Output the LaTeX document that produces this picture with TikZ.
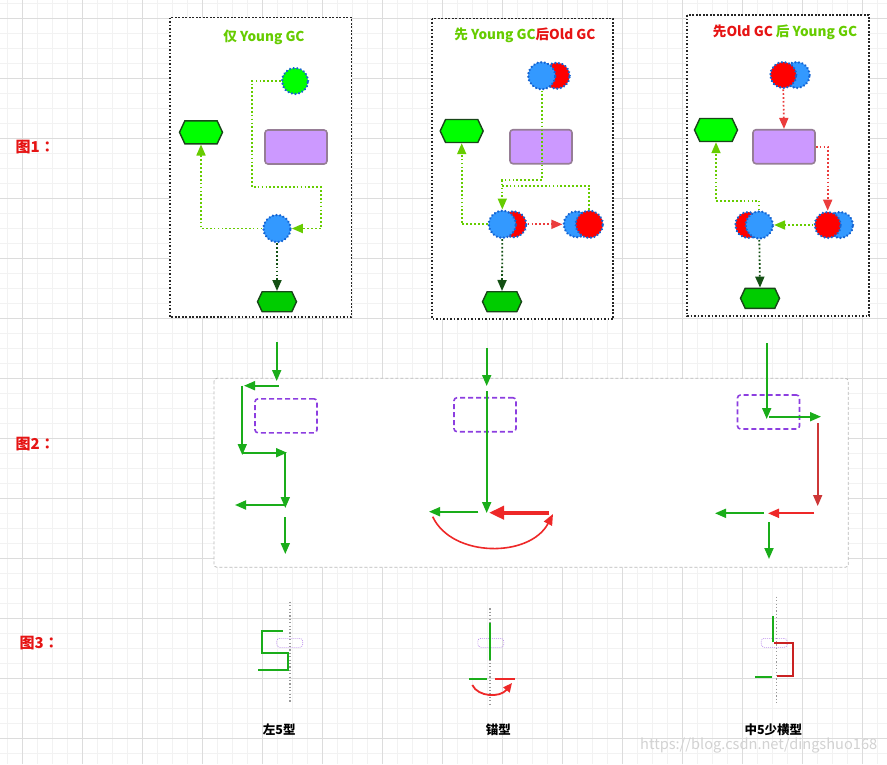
\documentclass[tikz,border=0pt]{standalone}
\usepackage{fontspec}
\setmainfont{Noto Sans CJK SC}
\newfontfamily\tcfont{Noto Sans CJK TC}
\usetikzlibrary{arrows.meta,shapes.symbols,shapes.geometric}
\definecolor{ygreen}{RGB}{102,204,0}
\definecolor{redT}{RGB}{230,20,20}
\definecolor{dgreen}{RGB}{20,80,20}
\definecolor{hexborder}{RGB}{25,70,25}
\definecolor{hexA}{RGB}{0,255,0}
\definecolor{hexB}{RGB}{0,204,0}
\definecolor{blueF}{RGB}{51,153,255}
\definecolor{redF}{RGB}{255,0,0}
\definecolor{dotblue}{RGB}{20,100,210}
\definecolor{purF}{RGB}{204,153,255}
\definecolor{purB}{RGB}{150,125,150}
\definecolor{purD}{RGB}{140,62,224}
\definecolor{pgreen}{RGB}{26,173,26}
\definecolor{pred}{RGB}{238,40,40}
\definecolor{predb}{RGB}{205,55,55}
\definecolor{rdot}{RGB}{235,60,60}
\definecolor{gridmin}{RGB}{242,242,242}
\definecolor{gridmaj}{RGB}{220,220,220}
\tikzset{
  gcbox/.style={draw=black!85, line width=1.7pt, dash pattern=on 1.7pt off 1.8pt, fill=white},
  hexbox/.style={signal, signal to=east and west, signal pointer angle=130, draw=hexborder, line width=1.4pt, fill=#1, inner sep=0},
  circ/.style={circle, fill=#1, draw=dotblue, line width=2.6pt, dash pattern=on 0.01pt off 3.6pt, line cap=round, minimum size=26pt, inner sep=0},
  prect/.style={draw=purB, line width=1.6pt, fill=purF, rounded corners=3pt, minimum width=62pt, minimum height=34pt, inner sep=0},
  yg/.style={draw=ygreen, line width=1.7pt, dash pattern=on 1.7pt off 2.2pt},
  yga/.style={yg, -{Triangle[width=9pt,length=11pt]}},
  dga/.style={draw=dgreen, line width=1.8pt, dash pattern=on 1.7pt off 2.2pt, -{Triangle[width=9pt,length=11pt]}},
  rda/.style={draw=rdot, line width=1.7pt, dash pattern=on 1.7pt off 2.2pt, -{Triangle[width=9pt,length=11pt]}},
  title/.style={font=\fontsize{13.6}{15}\selectfont\bfseries, inner sep=0},
  lbl/.style={font=\fontsize{15}{17}\selectfont\bfseries, text=redT, inner sep=0, anchor=west},
  ga/.style={draw=pgreen, line width=1.8pt, -{Triangle[width=9pt,length=11pt]}},
  pdash/.style={draw=purD, line width=1.6pt, dash pattern=on 5pt off 3pt, rounded corners=3pt, minimum width=62pt, minimum height=34pt, inner sep=0},
  gl/.style={draw=pgreen, line width=2pt},
  rl/.style={draw=pred, line width=2pt},
  vdot/.style={draw=gray!80, line width=1.5pt, dash pattern=on 1.2pt off 2.2pt},
  smallr/.style={draw=purD!60, line width=0.6pt, dash pattern=on 1pt off 1pt, rounded corners=3pt, minimum width=26pt, minimum height=9pt, inner sep=0},
  captxt/.style={font=\fontsize{12.5}{14}\selectfont\bfseries, inner sep=0}
}
\begin{document}
\begin{tikzpicture}[x=1pt,y=-1pt]
\useasboundingbox (0,0) rectangle (887,764);
\fill[white] (0,0) rectangle (887,764);
% grid
\foreach \i in {0,...,59} {\draw[gridmin, line width=0.6pt] ({7.3+15*\i},0) -- ({7.3+15*\i},764);}
\foreach \i in {0,...,51} {\draw[gridmin, line width=0.6pt] (0,{3.3+15*\i}) -- (887,{3.3+15*\i});}
\foreach \i in {0,...,14} {\draw[gridmaj, line width=0.7pt] ({22.3+60*\i},0) -- ({22.3+60*\i},764);}
\foreach \i in {0,...,12} {\draw[gridmaj, line width=0.7pt] (0,{18.3+60*\i}) -- (887,{18.3+60*\i});}

% labels
\node[lbl] (L1) at (15.5,147) {图1{\tcfont ：}};
\node[lbl] (L2) at (15.5,444) {图2{\tcfont ：}};
\node[lbl] (L3) at (19.5,643) {图3{\tcfont ：}};

% ===== Panel 1 boxes
\draw[gcbox] (170,17.5) rectangle (351.5,317);
\draw[gcbox] (432,18.5) rectangle (613,319);
\draw[gcbox] (687,15) rectangle (869,316);

% Box 1
\node[title, text=ygreen] (t1) at (264,37.5) {仅 Young GC};
\node[circ=hexA] (g1) at (295,81) {};
\node[prect] (r1) at (296,147) {};
\node[circ=blueF, minimum size=27pt] (b1) at (277,228.5) {};
\node[hexbox=hexA, minimum width=43pt, minimum height=23pt] (h1) at (201,132.3) {};
\node[hexbox=hexB, minimum width=39pt, minimum height=20pt] (hb1) at (277,301.7) {};
\draw[yga] (g1.west) -- (252,81) -- (252,187) -- (321,187) -- (321,228.5) -- (b1.east);
\draw[yga] (b1.west) -| (h1.south);
\draw[dga] (b1.south) -- (hb1.north);

% Box 2
\node[title] (t2) at (525,35) {\textcolor{ygreen}{先 Young GC}\textcolor{redT}{后Old GC}};
\node[circ=redF] (t2r) at (556.7,75.7) {};
\node[circ=blueF, minimum size=27pt] (t2b) at (541.7,75.7) {};
\node[prect] (r2) at (541,146.7) {};
\node[circ=redF] (m2r) at (513.3,224.3) {};
\node[circ=blueF, minimum size=27pt] (m2b) at (502.3,224.3) {};
\node[circ=blueF] (rb2b) at (576.7,224.3) {};
\node[circ=redF, minimum size=27pt] (rb2r) at (589.3,224.3) {};
\node[hexbox=hexA, minimum width=43pt, minimum height=23pt] (h2) at (461.7,131) {};
\node[hexbox=hexB, minimum width=39pt, minimum height=20pt] (hb2) at (502,301.7) {};
\draw[yg] (rb2r.north) |- (502.3,186);
\draw[yga] (t2b.south) -- (541.7,180) -| (m2b.north);
\draw[rda] (m2r.east) -- (rb2b.west);
\draw[yga] (m2b.west) -| (h2.south);
\draw[dga] (m2b.south) -- (hb2.north);

% Box 3
\node[title] (t3) at (785,32.7) {\textcolor{redT}{先Old GC} \textcolor{ygreen}{后 Young GC}};
\node[circ=blueF] (t3b) at (796.7,75) {};
\node[circ=redF] (t3r) at (783.3,75) {};
\node[prect] (r3) at (784,146.7) {};
\node[circ=blueF] (rb3b) at (840,225) {};
\node[circ=redF] (rb3r) at (827.7,225) {};
\node[circ=redF] (m3r) at (748.3,225) {};
\node[circ=blueF, minimum size=27pt] (m3b) at (759.3,225) {};
\node[hexbox=hexA, minimum width=43pt, minimum height=23pt] (h3) at (716,130) {};
\node[hexbox=hexB, minimum width=39pt, minimum height=20pt] (hb3) at (760,298.3) {};
\draw[rda] (t3r.south) -- (r3.north);
\draw[rda] (r3.east) -| (rb3r.north);
\draw[yga] (rb3r.west) -- (m3b.east);
\draw[yga] (m3b.north) -- (759.3,200.7) -| (h3.south);
\draw[dga] (m3b.south) -- (hb3.north);

% ===== Panel 2
\draw[draw=gray!55, line width=0.8pt, dash pattern=on 3pt off 2pt, rounded corners=3pt, fill=white] (214,378.3) rectangle (848.3,567.3);
% left group
\node[pdash] (pr1) at (286,415.8) {};
\coordinate (la0) at (276.7,342);  \coordinate (la1) at (276.7,381);
\coordinate (lb0) at (278.5,385.7); \coordinate (lb1) at (244,385.7);
\coordinate (lc0) at (242.3,385.7); \coordinate (lc1) at (242.3,455);
\coordinate (ld0) at (242.3,452.7); \coordinate (ld1) at (287,452.7);
\coordinate (le0) at (285.3,452.7); \coordinate (le1) at (285.3,508);
\coordinate (lf0) at (285.3,505); \coordinate (lf1) at (235,505);
\coordinate (lg0) at (285.3,517); \coordinate (lg1) at (285.3,554);
\draw[ga] (la0) -- (la1);
\draw[ga] (lb0) -- (lb1);
\draw[ga] (lc0) -- (lc1);
\draw[ga] (ld0) -- (ld1);
\draw[ga] (le0) -- (le1);
\draw[ga] (lf0) -- (lf1);
\draw[ga] (lg0) -- (lg1);
% middle group
\node[pdash] (pr2) at (485,414.7) {};
\coordinate (ma0) at (486.7,348); \coordinate (ma1) at (486.7,386);
\coordinate (mb0) at (486.7,391); \coordinate (mb1) at (486.7,513);
\coordinate (mc0) at (478.3,511.7); \coordinate (mc1) at (429,511.7);
\coordinate (md0) at (549,512.7); \coordinate (md1) at (489,512.7);
\coordinate (me0) at (432.7,516.7); \coordinate (me1) at (553,514);
\draw[ga] (ma0) -- (ma1);
\draw[ga] (mb0) -- (mb1);
\draw[ga] (mc0) -- (mc1);
\draw[draw=pred, line width=4pt, -{Triangle[width=13pt,length=15pt]}] (md0) -- (md1);
\draw[draw=pred, line width=1.6pt, -{Triangle[width=9pt,length=11pt]}] (me0) .. controls (452,558) and (530,558) .. (me1);
% right group
\node[pdash] (pr3) at (768.5,412) {};
\coordinate (ra0) at (766.7,343); \coordinate (ra1) at (766.7,419);
\coordinate (rb0) at (769.3,416.7); \coordinate (rb1) at (821,416.7);
\coordinate (rc0) at (817.7,423.3); \coordinate (rc1) at (817.7,506);
\coordinate (rd0) at (814,513.3); \coordinate (rd1) at (768,513.3);
\coordinate (re0) at (764,513.3); \coordinate (re1) at (715,513.3);
\coordinate (rf0) at (769,522.3); \coordinate (rf1) at (769,559);
\draw[ga] (ra0) -- (ra1);
\draw[ga] (rb0) -- (rb1);
\draw[draw=predb, line width=1.6pt, -{Triangle[width=9pt,length=11pt]}] (rc0) -- (rc1);
\draw[draw=pred, line width=2pt, -{Triangle[width=9pt,length=11pt]}] (rd0) -- (rd1);
\draw[ga] (re0) -- (re1);
\draw[ga] (rf0) -- (rf1);

% ===== Panel 3
% left
\coordinate (pa0) at (290,601.7); \coordinate (pa1) at (290,702.7);
\draw[vdot] (pa0) -- (pa1);
\node[smallr] (sr1) at (289.7,642.8) {};
\coordinate (s1) at (282.7,631); \coordinate (s2) at (261.7,631); \coordinate (s3) at (261.7,652.7);
\coordinate (s4) at (288.3,652.7); \coordinate (s5) at (288.3,670); \coordinate (s6) at (258.3,670);
\draw[gl] (s1) -- (s2) -- (s3) -- (s4) -- (s5) -- (s6);
\node[captxt] (c1) at (279.3,730) {左5型};
% middle
\coordinate (pb0) at (490,608.3); \coordinate (pb1) at (490,705);
\draw[vdot] (pb0) -- (pb1);
\node[smallr] (sr2) at (490.8,642.8) {};
\coordinate (u1) at (490,623.3); \coordinate (u2) at (490,660);
\draw[gl] (u1) -- (u2);
\coordinate (u3) at (469,679); \coordinate (u4) at (486.7,679);
\draw[gl] (u3) -- (u4);
\coordinate (u5) at (495,679); \coordinate (u6) at (515,679);
\draw[rl] (u5) -- (u6);
\coordinate (u7) at (472.3,685); \coordinate (u8) at (512,683);
\draw[draw=pred, line width=1.8pt, -{Triangle[width=8pt,length=9pt]}] (u7) .. controls (478,697) and (500,698) .. (u8);
\node[captxt] (c2) at (498.3,730) {锚型};
% right
\coordinate (pc0) at (776.7,596.7); \coordinate (pc1) at (776.7,705);
\draw[vdot] (pc0) -- (pc1);
\node[smallr] (sr3) at (774.2,642.8) {};
\coordinate (v1) at (772.7,616); \coordinate (v2) at (772.7,641.7);
\draw[gl] (v1) -- (v2);
\coordinate (w1) at (774,642.7); \coordinate (w2) at (792.7,642.7); \coordinate (w3) at (792.7,676); \coordinate (w4) at (777.3,676);
\draw[draw=pred!85!black, line width=2pt] (w1) -- (w2) -- (w3) -- (w4);
\coordinate (v3) at (755,676.7); \coordinate (v4) at (771.7,676.7);
\draw[gl] (v3) -- (v4);
\node[captxt] (c3) at (773.3,730) {中5少横型};

% watermark
\node[text=gray!35, font=\fontsize{14.6}{16}\selectfont, inner sep=0, anchor=west] (wm) at (640,745.7) {https://blog.csdn.net/dingshuo168};
\end{tikzpicture}
\end{document}
